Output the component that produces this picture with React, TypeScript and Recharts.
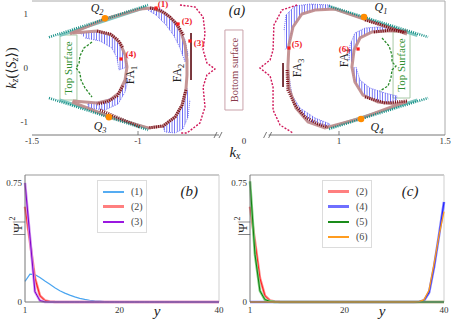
import React from "react";
import {
  ScatterChart,
  Scatter,
  LineChart,
  Line,
  XAxis,
  YAxis,
  ReferenceLine,
  ReferenceArea,
  ReferenceDot,
  Legend,
} from "recharts";

const SERIF = '"Liberation Serif", "DejaVu Serif", serif';

// ---------- panel (a): surface Fermi arcs, every point is [kx, kz] ----------
const tealUpL = [[-1.42, 0.57], [-0.953, 1.167]];
const tealDnL = [[-1.42, -0.556], [-0.953, -1.148]];
const tealUpR = [[0.953, 1.148], [1.42, 0.574]];
const tealDnR = [[0.953, -1.13], [1.42, -0.556]];
const tealBandUpL = [[-1.37, 0.6], [-0.96, 1.13]];
const tealBandDnL = [[-1.37, -0.59], [-0.96, -1.11]];
const tealBandUpR = [[0.96, 1.12], [1.37, 0.6]];
const tealBandDnR = [[0.96, -1.1], [1.37, -0.59]];

const roseOuterL = [[-1.321, 0.63], [-1.156, 0.907], [-0.991, 1.093], [-0.934, 1.111], [-0.873, 1.019], [-0.825, 0.852], [-0.797, 0.667], [-0.778, 0.426], [-0.769, 0.148], [-0.769, -0.13], [-0.774, -0.407], [-0.792, -0.685], [-0.825, -0.907], [-0.882, -1.074], [-0.953, -1.111], [-1.132, -0.907], [-1.311, -0.63]];
const roseInnerL = [[-1.307, 0.648], [-1.193, 0.685], [-1.123, 0.611], [-1.085, 0.463], [-1.061, 0.241], [-1.052, 0.019], [-1.061, -0.222], [-1.09, -0.463], [-1.132, -0.593], [-1.193, -0.648], [-1.307, -0.611]];
const roseOuterR = [[1.321, 0.63], [1.118, 0.907], [0.981, 1.093], [0.887, 1.074], [0.825, 1.0], [0.783, 0.759], [0.764, 0.426], [0.759, 0.019], [0.764, -0.37], [0.797, -0.741], [0.854, -1.0], [0.934, -1.111], [1.108, -0.926], [1.311, -0.63]];
const roseInnerR = [[1.321, 0.685], [1.226, 0.685], [1.156, 0.667], [1.099, 0.556], [1.071, 0.333], [1.061, 0.019], [1.075, -0.259], [1.113, -0.5], [1.184, -0.63], [1.264, -0.667], [1.321, -0.63]];

// <Sz> bars (blue hatched bands)
const hatchL1 = [[-0.943, 1.13], [-0.887, 1.074], [-0.84, 0.926], [-0.807, 0.759], [-0.778, 0.519], [-0.764, 0.241], [-0.778, 0.111], [-0.802, 0.37], [-0.83, 0.593], [-0.868, 0.796], [-0.915, 0.981], [-0.953, 1.074]];
const hatchL2 = [[-0.769, -0.37], [-0.788, -0.667], [-0.821, -0.907], [-0.882, -1.093], [-0.873, -1.185], [-0.825, -1.204], [-0.788, -1.13], [-0.764, -0.907], [-0.755, -0.593]];
const hatchL3 = [[-1.274, 0.648], [-1.193, 0.667], [-1.123, 0.593], [-1.085, 0.444], [-1.061, 0.222], [-1.052, 0.019], [-1.09, -0.037], [-1.099, 0.185], [-1.123, 0.37], [-1.179, 0.5], [-1.25, 0.556]];
const hatchL4 = [[-1.057, -0.13], [-1.075, -0.37], [-1.108, -0.537], [-1.179, -0.63], [-1.236, -0.648], [-1.236, -0.741], [-1.156, -0.778], [-1.094, -0.667], [-1.061, -0.444], [-1.047, -0.222]];
const hatchR1 = [[0.741, 0.704], [0.75, 0.981], [0.792, 1.148], [0.863, 1.185], [0.958, 1.167], [0.958, 1.093], [0.887, 1.074], [0.825, 1.0], [0.783, 0.759], [0.764, 0.426], [0.745, 0.333]];
const hatchR2 = [[0.764, -0.13], [0.778, -0.5], [0.816, -0.741], [0.887, -0.926], [0.958, -1.037], [0.943, -1.111], [0.854, -1.0], [0.797, -0.741], [0.764, -0.407]];
const hatchR3 = [[1.047, 0.148], [1.052, 0.426], [1.075, 0.648], [1.123, 0.741], [1.184, 0.759], [1.241, 0.741], [1.226, 0.685], [1.156, 0.667], [1.099, 0.556], [1.071, 0.333], [1.061, 0.111]];
const hatchR4 = [[1.08, 0.019], [1.099, -0.222], [1.146, -0.37], [1.217, -0.463], [1.274, -0.519], [1.264, -0.667], [1.184, -0.63], [1.113, -0.5], [1.075, -0.259], [1.061, 0.019]];

// dark red (opposite spin) pieces
const darkPieces = [
  [[-0.943, 1.111], [-0.896, 1.074], [-0.849, 0.944], [-0.811, 0.778], [-0.783, 0.593]],
  [[-0.774, -0.407], [-0.792, -0.685], [-0.825, -0.907], [-0.882, -1.074], [-0.953, -1.111]],
  [[-1.179, -0.778], [-0.991, -1.093]],
  [[-1.193, 0.685], [-1.132, 0.63], [-1.094, 0.519], [-1.071, 0.37]],
  [[-1.071, -0.333], [-1.099, -0.519], [-1.146, -0.63], [-1.193, -0.667]],
  [[0.755, -0.037], [0.759, -0.407], [0.792, -0.685], [0.84, -0.907], [0.901, -1.037], [0.948, -1.093]],
  [[1.123, 0.889], [1.217, 0.778], [1.311, 0.648]],
  [[1.165, 0.667], [1.245, 0.704], [1.321, 0.667]],
  [[1.123, -0.537], [1.217, -0.648], [1.321, -0.611]],
];
const darkBars = [
  [[-0.75, 0.648], [-0.75, -0.222]],
  [[0.736, 0.093], [0.736, -0.352]],
];

const topSurfaceL = [[-1.217, 0.481], [-1.255, 0.37], [-1.274, 0.222], [-1.278, 0.093], [-1.292, 0], [-1.274, -0.093], [-1.269, -0.222], [-1.25, -0.37], [-1.217, -0.537]];
const topSurfaceR = [[1.203, 0.556], [1.236, 0.407], [1.25, 0.241], [1.25, 0.111], [1.269, 0.037], [1.25, -0.037], [1.245, -0.185], [1.231, -0.333], [1.193, -0.426]];
const bottomSurfaceL = [[-0.802, 1.167], [-0.731, 1.13], [-0.693, 0.944], [-0.684, 0.648], [-0.693, 0.333], [-0.675, 0.093], [-0.637, -0.019], [-0.675, -0.13], [-0.693, -0.352], [-0.684, -0.722], [-0.708, -1.019], [-0.769, -1.204], [-0.802, -1.204]];
const bottomSurfaceR = [[0.802, 1.167], [0.731, 1.074], [0.693, 0.796], [0.689, 0.333], [0.675, 0.148], [0.627, 0], [0.675, -0.148], [0.689, -0.352], [0.689, -0.778], [0.722, -1.056], [0.783, -1.204]];

const probePoints = [[-0.915, 1.111], [-0.811, 0.815], [-0.755, 0.5], [-1.08, 0.167], [0.764, 0.37], [1.09, 0.352]];
const weylPoints = [[-1.156, 0.92], [-1.137, -0.91], [1.118, 0.944], [1.104, -0.944]];

const annotations = [
  { kx: -0.533, kz: 1.074, text: "(a)", size: 14, italic: true, color: "#222" },
  { kx: -1.193, kz: 1.111, text: "Q", sub: "2", size: 12, italic: true, color: "#222" },
  { kx: -1.179, kz: -1.074, text: "Q", sub: "3", size: 12, italic: true, color: "#222" },
  { kx: 1.198, kz: 1.13, text: "Q", sub: "1", size: 12, italic: true, color: "#222" },
  { kx: 1.179, kz: -1.093, text: "Q", sub: "4", size: 12, italic: true, color: "#222" },
  { kx: -1.038, kz: -0.13, text: "FA", sub: "1", size: 12, rot: -90, color: "#222" },
  { kx: -0.816, kz: -0.093, text: "FA", sub: "2", size: 12, rot: -90, color: "#222" },
  { kx: 0.802, kz: 0, text: "FA", sub: "3", size: 12, rot: -90, color: "#222" },
  { kx: 1.024, kz: 0.185, text: "FA", sub: "4", size: 12, rot: -90, color: "#222" },
  { kx: -0.882, kz: 1.185, text: "(1)", size: 9, bold: true, color: "#f0202a" },
  { kx: -0.769, kz: 0.87, text: "(2)", size: 9, bold: true, color: "#f0202a" },
  { kx: -0.712, kz: 0.463, text: "(3)", size: 9, bold: true, color: "#f0202a" },
  { kx: -1.033, kz: 0.259, text: "(4)", size: 9, bold: true, color: "#f0202a" },
  { kx: 0.802, kz: 0.444, text: "(5)", size: 9, bold: true, color: "#f0202a" },
  { kx: 1.024, kz: 0.352, text: "(6)", size: 9, bold: true, color: "#f0202a" },
  { kx: -1.33, kz: 0, text: "Top Surface", size: 11, rot: -90, color: "#2f8f2f" },
  { kx: 1.292, kz: 0.056, text: "Top Surface", size: 11, rot: -90, color: "#2f8f2f" },
  { kx: -0.547, kz: -0.037, text: "Bottom surface", size: 10.5, rot: -90, color: "#8a3a4c" },
];

const labelBoxes = [
  { kx1: -1.368, kx2: -1.288, kz1: -0.593, kz2: 0.611, stroke: "#a9c9a6" },
  { kx1: 1.255, kx2: 1.335, kz1: -0.556, kz2: 0.667, stroke: "#a9c9a6" },
  { kx1: -0.59, kx2: -0.505, kz1: -0.778, kz2: 0.704, stroke: "#c9a2aa" },
];

// the kx axis is broken around 0: both halves are pulled toward the middle
const KX_SHIFT = 0.526;
const U_MAX = 0.974;
const KZ_MAX = 1.241;
const fold = (kx: number) => (kx < 0 ? kx + KX_SHIFT : kx - KX_SHIFT);
const pts = (list: number[][]) => list.map(([kx, kz]) => ({ u: fold(kx), kz }));

const topTicks = [
  { u: fold(-1.5), label: "-1.5" },
  { u: fold(-1), label: "-1", mark: true },
  { u: fold(-0.618), cut: true },
  { u: 0.026, label: "0" },
  { u: fold(0.668), cut: true },
  { u: fold(1), label: "1", mark: true },
  { u: fold(1.5), label: "1.5" },
];

// ---------- panels (b), (c): |psi|^2 across the slab ----------
const sites = [1, 2, 3, 4, 5, 6, 7, 8, 9, 10, 11, 12, 13, 14, 15, 16, 17, 18, 19, 20, 21, 22, 23, 24, 25, 26, 27, 28, 29, 30, 31, 32, 33, 34, 35, 36, 37, 38, 39, 40];
const psi1 = [0.13, 0.175, 0.172, 0.155, 0.132, 0.112, 0.09, 0.071, 0.056, 0.043, 0.032, 0.023, 0.016, 0.011, 0.007, 0.005, 0.003, 0.002, 0.001, 0, 0, 0, 0, 0, 0, 0, 0, 0, 0, 0, 0, 0, 0, 0, 0, 0, 0, 0, 0, 0];
const psi2 = [0.6, 0.38, 0.15, 0.04, 0.01, 0.003, 0.001, 0, 0, 0, 0, 0, 0, 0, 0, 0, 0, 0, 0, 0, 0, 0, 0, 0, 0, 0, 0, 0, 0, 0, 0, 0, 0, 0, 0, 0, 0, 0, 0, 0];
const psi3 = [0.75, 0.41, 0.065, 0.008, 0.001, 0, 0, 0, 0, 0, 0, 0, 0, 0, 0, 0, 0, 0, 0, 0, 0, 0, 0, 0, 0, 0, 0, 0, 0, 0, 0, 0, 0, 0, 0, 0, 0, 0, 0, 0];
const psi4 = [0, 0, 0, 0, 0, 0, 0, 0, 0, 0, 0, 0, 0, 0, 0, 0, 0, 0, 0, 0, 0, 0, 0, 0, 0, 0, 0, 0, 0, 0, 0, 0, 0, 0, 0.002, 0.01, 0.06, 0.22, 0.42, 0.63];
const psi5 = [0.76, 0.3, 0.07, 0.015, 0.004, 0.001, 0, 0, 0, 0, 0, 0, 0, 0, 0, 0, 0, 0, 0, 0, 0, 0, 0, 0, 0, 0, 0, 0, 0, 0, 0, 0, 0, 0, 0, 0, 0, 0, 0, 0];
const psi6 = [0, 0, 0, 0, 0, 0, 0, 0, 0, 0, 0, 0, 0, 0, 0, 0, 0, 0, 0, 0, 0, 0, 0, 0, 0, 0, 0, 0, 0, 0, 0, 0, 0, 0, 0.003, 0.015, 0.075, 0.24, 0.42, 0.57];
const siteTicks = [1, 10, 20, 30, 40];
const psiTicks = [0, 0.75];

const rows = sites.map((y, i) => ({ y, p1: psi1[i], p2: psi2[i], p3: psi3[i], p4: psi4[i], p5: psi5[i], p6: psi6[i] }));

const legendB = [
  { name: "(1)", color: "#55acf2", w: 2 },
  { name: "(2)", color: "#ff7f7f", w: 3 },
  { name: "(3)", color: "#9a18e0", w: 2 },
];
const legendC = [
  { name: "(2)", color: "#ff7f7f", w: 3 },
  { name: "(4)", color: "#6f6fff", w: 3 },
  { name: "(5)", color: "#1a8c1a", w: 2 },
  { name: "(6)", color: "#ff9c1f", w: 2 },
];

const noDot = () => <g />;

function curve(key: string, list: number[][], line: object) {
  return <Scatter key={key} data={pts(list)} shape={noDot} line={line} isAnimationActive={false} />;
}

function renderAnnotation(p: any) {
  const d = p.payload;
  const tr = d.rot ? `rotate(${d.rot} ${p.cx} ${p.cy})` : undefined;
  return (
    <text
      x={p.cx}
      y={p.cy}
      transform={tr}
      textAnchor="middle"
      dominantBaseline="central"
      fontFamily={SERIF}
      fontSize={d.size}
      fontStyle={d.italic ? "italic" : "normal"}
      fontWeight={d.bold ? "bold" : "normal"}
      fill={d.color}
    >
      {d.text}
      {d.sub ? (
        <tspan fontSize={d.size * 0.7} dy={d.size * 0.3}>
          {d.sub}
        </tspan>
      ) : null}
    </text>
  );
}

function TopTick(props: any) {
  const { x, y, index } = props;
  const t = topTicks[index];
  if (!t) return null;
  if (t.cut) {
    return <path d={`M${x - 5} ${y}L${x - 2} ${y - 6}M${x} ${y}L${x + 3} ${y - 6}`} stroke="#555" strokeWidth={0.8} fill="none" />;
  }
  return (
    <g>
      {t.mark ? <line x1={x} x2={x} y1={y - 3} y2={y - 7} stroke="#666" strokeWidth={0.8} /> : null}
      <text x={x} y={y} dy="0.71em" textAnchor="middle" fontFamily={SERIF} fontSize={9} fill="#333">
        {t.label}
      </text>
    </g>
  );
}

function TopYLabel(props: any) {
  const vb = props.viewBox;
  const cx = vb.x + 11;
  const cy = vb.y + vb.height / 2;
  return (
    <text x={cx} y={cy} transform={`rotate(-90 ${cx} ${cy})`} textAnchor="middle" dominantBaseline="central" fontFamily={SERIF} fontSize={14} fill="#222">
      <tspan fontStyle="italic">k</tspan>
      <tspan fontSize={10} fontStyle="italic" dy={3}>z</tspan>
      <tspan dy={-3}>(⟨</tspan>
      <tspan fontStyle="italic">S</tspan>
      <tspan fontSize={10} fontStyle="italic" dy={3}>z</tspan>
      <tspan dy={-3}>⟩)</tspan>
    </text>
  );
}

function TopXLabel(props: any) {
  const vb = props.viewBox;
  return (
    <text x={vb.x + 203} y={vb.y + 17} textAnchor="middle" dominantBaseline="central" fontFamily={SERIF} fontSize={15} fontStyle="italic" fill="#222">
      k<tspan fontSize={10} dy={3}>x</tspan>
    </text>
  );
}

function PsiLabel(props: any) {
  const vb = props.viewBox;
  const cx = vb.x + 17;
  const cy = vb.y + 51;
  return (
    <text x={cx} y={cy} transform={`rotate(-90 ${cx} ${cy})`} textAnchor="middle" dominantBaseline="central" fontFamily={SERIF} fontSize={13} fill="#222">
      |Ψ|<tspan fontSize={8} dy={-5}>2</tspan>
    </text>
  );
}

function SiteLabel(props: any) {
  const vb = props.viewBox;
  return (
    <text x={vb.x + 132} y={vb.y + 9} textAnchor="middle" dominantBaseline="central" fontFamily={SERIF} fontSize={15} fontStyle="italic" fill="#222">
      y
    </text>
  );
}

function legendBox(items: { name: string; color: string; w: number }[]) {
  return () => (
    <div style={{ width: 48, border: "1px solid #dcdcdc", background: "#fff", padding: "3px 0" }}>
      {items.map((it) => (
        <div key={it.name} style={{ display: "flex", alignItems: "center", height: 15 }}>
          <div style={{ width: 21, height: it.w, background: it.color, marginLeft: 5 }} />
          <span style={{ marginLeft: 7, fontFamily: SERIF, fontSize: 10, color: "#444" }}>{it.name}</span>
        </div>
      ))}
    </div>
  );
}

function ProfileChart({ panel, legend, children }: { panel: string; legend: any[]; children: React.ReactNode }) {
  return (
    <LineChart width={panel === "(b)" ? 225 : 228} height={151} data={rows} margin={{ top: 5, right: panel === "(b)" ? 6 : 9, bottom: 0, left: 0 }}>
      <XAxis
        dataKey="y"
        type="number"
        domain={[1, 40]}
        ticks={siteTicks}
        interval={0}
        tickFormatter={(v: number) => (v === 10 || v === 30 ? "" : String(v))}
        height={19}
        tickSize={0}
        tickMargin={5}
        stroke="#777"
        tick={{ fontSize: 9, fill: "#333", fontFamily: SERIF }}
        label={SiteLabel}
      />
      <YAxis
        type="number"
        domain={[0, 0.8]}
        ticks={psiTicks}
        interval={0}
        width={25}
        tickSize={0}
        tickMargin={3}
        stroke="#777"
        tick={{ fontSize: 9, fill: "#333", fontFamily: SERIF }}
        label={PsiLabel}
      />
      <ReferenceLine y={0.8} stroke="#999" />
      <ReferenceLine x={40} stroke="#cfcfcf" />
      {children}
      <ReferenceDot
        x={panel === "(b)" ? 34 : 33.2}
        y={0.7}
        r={0}
        fill="none"
        stroke="none"
        label={{ value: panel, position: "center", fontSize: 15, fontStyle: "italic", fontFamily: SERIF, fill: "#222" }}
      />
      <Legend
        layout="vertical"
        align="center"
        verticalAlign="middle"
        content={legendBox(legend)}
        wrapperStyle={{ left: 97, top: 10, width: 50 }}
      />
    </LineChart>
  );
}

export default function App() {
  return (
    <div style={{ position: "absolute", left: 0, top: 0, width: 453, height: 321, background: "#fff" }}>
      <div style={{ position: "absolute", left: 0, top: 0 }}>
        <ScatterChart width={453} height={160} margin={{ top: 1, right: 8, bottom: 0, left: 0 }}>
          <defs>
            <pattern id="vHatch" width="2.6" height="4" patternUnits="userSpaceOnUse">
              <rect x="0" y="0" width="0.8" height="4" fill="#5252f2" />
            </pattern>
          </defs>
          <XAxis
            type="number"
            dataKey="u"
            domain={[-U_MAX, U_MAX]}
            allowDataOverflow
            ticks={topTicks.map((t) => t.u)}
            interval={0}
            height={25}
            tickSize={0}
            tickMargin={3}
            axisLine={false}
            tick={TopTick}
            label={TopXLabel}
          />
          <YAxis
            type="number"
            dataKey="kz"
            domain={[-KZ_MAX, KZ_MAX]}
            allowDataOverflow
            ticks={[-1, 0, 1]}
            interval={0}
            width={32}
            tickSize={0}
            tickMargin={4}
            axisLine={false}
            tick={{ fontSize: 9, fill: "#333", fontFamily: SERIF }}
            label={TopYLabel}
          />
          <ReferenceLine y={KZ_MAX} stroke="#aaa" />
          <ReferenceLine x={U_MAX} stroke="#aaa" />
          <ReferenceLine segment={[{ x: -U_MAX, y: -KZ_MAX }, { x: topTicks[2].u, y: -KZ_MAX }]} stroke="#777" ifOverflow="visible" />
          <ReferenceLine segment={[{ x: topTicks[4].u, y: -KZ_MAX }, { x: U_MAX, y: -KZ_MAX }]} stroke="#777" ifOverflow="visible" />
          {labelBoxes.map((b, i) => (
            <ReferenceArea key={"box" + i} x1={fold(b.kx1)} x2={fold(b.kx2)} y1={b.kz1} y2={b.kz2} fill="#fff" fillOpacity={0} stroke={b.stroke} strokeWidth={1} ifOverflow="visible" />
          ))}
          {[tealBandUpL, tealBandDnL, tealBandUpR, tealBandDnR].map((c, i) =>
            curve("band" + i, c, { stroke: "#80c7c0", strokeWidth: 3 })
          )}
          {[hatchL1, hatchL2, hatchL3, hatchL4, hatchR1, hatchR2, hatchR3, hatchR4].map((c, i) =>
            curve("hatch" + i, c, { stroke: "#4a4af0", strokeWidth: 0.7, strokeDasharray: "1 1", fill: "url(#vHatch)" })
          )}
          {[roseOuterL, roseInnerL, roseOuterR, roseInnerR].map((c, i) =>
            curve("rose" + i, c, { stroke: "#bf8a8a", strokeWidth: 3, strokeOpacity: 0.9 })
          )}
          {darkPieces.map((c, i) => curve("dark" + i, c, { stroke: "#7a0c16", strokeWidth: 3, strokeDasharray: "1 1.2" }))}
          {darkBars.map((c, i) => curve("bar" + i, c, { stroke: "#5a0810", strokeWidth: 1.6 }))}
          {[tealUpL, tealDnL, tealUpR, tealDnR].map((c, i) =>
            curve("teal" + i, c, { stroke: "#128f86", strokeWidth: 2.5, strokeDasharray: "1 1.2" })
          )}
          {[topSurfaceL, topSurfaceR].map((c, i) =>
            curve("top" + i, c, { stroke: "#2a8a2a", strokeWidth: 1.3, strokeDasharray: "2.5 1.5" })
          )}
          {[bottomSurfaceL, bottomSurfaceR].map((c, i) =>
            curve("bot" + i, c, { stroke: "#d0185a", strokeWidth: 1.4, strokeDasharray: "2 1.5" })
          )}
          <Scatter
            data={pts(weylPoints)}
            isAnimationActive={false}
            shape={(p: any) => <circle cx={p.cx} cy={p.cy} r={3.3} fill="#ff8c00" />}
          />
          <Scatter
            data={pts(probePoints)}
            isAnimationActive={false}
            shape={(p: any) => <rect x={p.cx - 1.6} y={p.cy - 1.6} width={3.2} height={3.2} fill="#ff1a1a" />}
          />
          <Scatter
            data={annotations.map((a) => ({ ...a, u: fold(a.kx) }))}
            isAnimationActive={false}
            shape={renderAnnotation}
          />
        </ScatterChart>
      </div>

      <div style={{ position: "absolute", left: 0, top: 170 }}>
        <ProfileChart panel="(b)" legend={legendB}>
          <Line dataKey="p1" stroke="#4aa5f0" strokeWidth={1.2} dot={false} type="linear" isAnimationActive={false} />
          <Line dataKey="p2" stroke="#ff8a8a" strokeWidth={2.6} dot={false} type="linear" isAnimationActive={false} />
          <Line dataKey="p2" stroke="#ff1f1f" strokeWidth={1} dot={false} type="linear" isAnimationActive={false} />
          <Line dataKey="p3" stroke="#cf8ff0" strokeWidth={2.6} dot={false} type="linear" isAnimationActive={false} />
          <Line dataKey="p3" stroke="#8000c8" strokeWidth={1} dot={false} type="linear" isAnimationActive={false} />
        </ProfileChart>
      </div>

      <div style={{ position: "absolute", left: 225, top: 170 }}>
        <ProfileChart panel="(c)" legend={legendC}>
          <Line dataKey="p2" stroke="#ff8a8a" strokeWidth={2.6} dot={false} type="linear" isAnimationActive={false} />
          <Line dataKey="p2" stroke="#ff1f1f" strokeWidth={1} dot={false} type="linear" isAnimationActive={false} />
          <Line dataKey="p4" stroke="#7a7aff" strokeWidth={2.6} dot={false} type="linear" isAnimationActive={false} />
          <Line dataKey="p4" stroke="#1f1fff" strokeWidth={1} dot={false} type="linear" isAnimationActive={false} />
          <Line dataKey="p5" stroke="#7fcf7f" strokeWidth={2.6} dot={false} type="linear" isAnimationActive={false} />
          <Line dataKey="p5" stroke="#0f800f" strokeWidth={1} dot={false} type="linear" isAnimationActive={false} />
          <Line dataKey="p6" stroke="#ff9a1a" strokeWidth={1.3} dot={false} type="linear" isAnimationActive={false} />
        </ProfileChart>
      </div>
    </div>
  );
}
